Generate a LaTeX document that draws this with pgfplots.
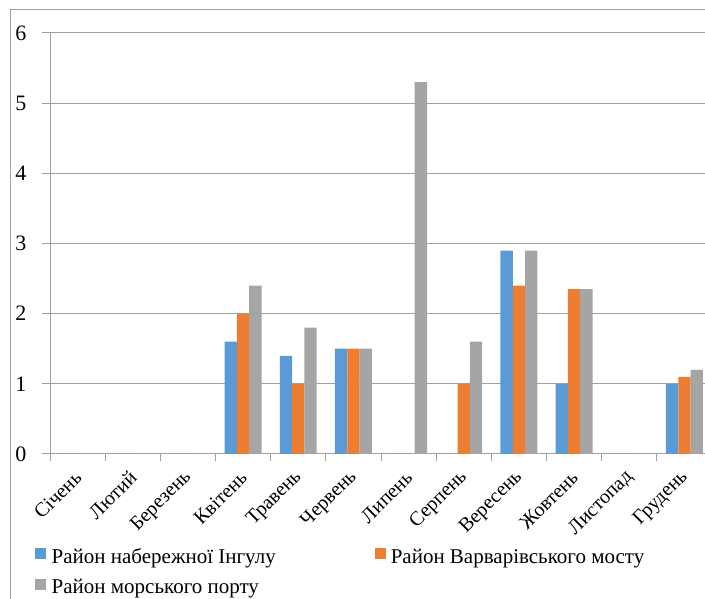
\documentclass[border=0pt]{standalone}
\usepackage{fontspec}
\setmainfont{Liberation Serif}
\usepackage{pgfplots}
\pgfplotsset{compat=1.18}
\definecolor{cblue}{HTML}{5B9BD5}
\definecolor{corange}{HTML}{ED7D31}
\definecolor{cgray}{HTML}{A5A5A5}
\definecolor{gridc}{HTML}{A0A0A0}
\begin{document}
\begin{tikzpicture}[x=1pt,y=1pt]
\path[use as bounding box] (0,0) rectangle (705,599);
\begin{scope}
\clip (0,0) rectangle (705,599);
\draw[gridc, line width=1pt] (10,-10) -- (10,589) -- (720,589);
\begin{axis}[
  at={(50pt,145pt)}, anchor=south west,
  scale only axis, width=662pt, height=421pt,
  xmin=0, xmax=12, ymin=0, ymax=6,
  axis lines*=left,
  axis line style={gridc, line width=1pt},
  ytick={0,1,2,3,4,5,6},
  ymajorgrids, grid style={gridc, line width=1pt},
  ytick align=outside, major tick length=8pt,
  ytick style={gridc, line width=1pt},
  yticklabel style={font=\fontsize{22}{24}\selectfont, anchor=east, xshift=-12pt},
  /pgf/number format/assume math mode=true,
  xtick={0.5,1.5,...,11.5},
  xticklabels={Січень,Лютий,Березень,Квітень,Травень,Червень,Липень,Серпень,Вересень,Жовтень,Листопад,Грудень},
  major x tick style={draw=none},
  minor xtick={0,1,...,12},
  minor x tick style={draw=gridc, line width=1pt},
  xtick align=outside,
  minor tick length=7pt,
  xticklabel style={font=\fontsize{20}{22}\selectfont, xshift=3pt, yshift=-10pt, rotate=45, anchor=east},
  ybar=0pt, bar width=12.3pt,
  legend columns=2,
  legend cell align=left,
  legend style={at={(-0.02266,-0.22447)}, anchor=north west, draw=none, fill=none,
    inner sep=0pt, outer sep=0pt,
    font=\fontsize{21}{23}\selectfont,
    nodes={inner sep=0pt, text height=11pt, text depth=3pt},
    column sep=0pt, row sep={30.5pt,between origins},
    /tikz/column 1/.style={column sep=5.7pt},
    /tikz/column 2/.style={column sep=99.5pt},
    /tikz/column 3/.style={column sep=4.5pt}},
  legend image code/.code={\path[#1, draw=none] (0pt,0pt) rectangle (11pt,11pt);},
]
\addplot[fill=cblue, draw=none] coordinates {(0.5,0)(1.5,0)(2.5,0)(3.5,1.6)(4.5,1.4)(5.5,1.5)(6.5,0)(7.5,0)(8.5,2.9)(9.5,1.0)(10.5,0)(11.5,1.0)};
\addplot[fill=corange, draw=none] coordinates {(0.5,0)(1.5,0)(2.5,0)(3.5,2.0)(4.5,1.0)(5.5,1.5)(6.5,0)(7.5,1.0)(8.5,2.4)(9.5,2.35)(10.5,0)(11.5,1.1)};
\addplot[fill=cgray, draw=none] coordinates {(0.5,0)(1.5,0)(2.5,0)(3.5,2.4)(4.5,1.8)(5.5,1.5)(6.5,5.3)(7.5,1.6)(8.5,2.9)(9.5,2.35)(10.5,0)(11.5,1.2)};
\legend{Район набережної Інгулу, Район Варварівського мосту, Район морського порту}
\end{axis}
\end{scope}
\end{tikzpicture}
\end{document}
